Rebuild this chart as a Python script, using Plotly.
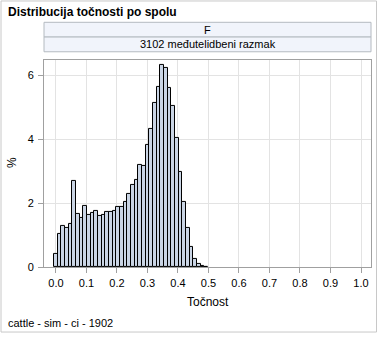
import plotly.graph_objects as go

# ---- data ----
bin_width = 0.012
bin_centers = [round(i * bin_width, 3) for i in range(42)]
percent = [0.42, 1.04, 1.28, 1.22, 1.34, 2.70, 1.68, 1.53, 1.93, 1.65,
           1.69, 1.75, 1.60, 1.63, 1.72, 1.72, 1.75, 1.88, 1.90, 2.03,
           2.28, 2.58, 2.73, 3.20, 3.17, 3.84, 4.34, 5.13, 5.65, 6.34,
           6.24, 5.62, 5.04, 4.06, 2.98, 2.05, 1.23, 0.62, 0.27, 0.11,
           0.04, 0.02]
x_ticks = [0.0, 0.1, 0.2, 0.3, 0.4, 0.5, 0.6, 0.7, 0.8, 0.9, 1.0]
x_ticklabels = ["0.0", "0.1", "0.2", "0.3", "0.4", "0.5", "0.6", "0.7", "0.8", "0.9", "1.0"]
y_ticks = [0, 2, 4, 6]
title_text = "Distribucija točnosti po spolu"
strip1_text = "F"
strip2_text = "3102 međutelidbeni razmak"
x_title = "Točnost"
y_title = "%"
footer_text = "cattle - sim - ci - 1902"

W, H = 378, 340
def X(p): return p / W
def Y(p): return 1 - p / H

FONT = "Liberation Sans, Arial, sans-serif"
TXT = "#000000"

fig = go.Figure()
fig.add_trace(go.Bar(
    x=bin_centers, y=percent, width=bin_width,
    marker=dict(color="#CAD5E5", line=dict(color="#000000", width=1)),
    hoverinfo="x+y", showlegend=False,
))

px_left, px_right, px_top, px_bottom = 44, 371, 61, 272

fig.update_layout(
    width=W, height=H,
    margin=dict(l=0, r=0, t=0, b=0),
    paper_bgcolor="white", plot_bgcolor="white",
    bargap=0,
    font=dict(family=FONT, size=11, color=TXT),
    xaxis=dict(
        domain=[X(px_left), X(px_right)],
        range=[-0.0393, 1.0328],
        tickvals=x_ticks, ticktext=x_ticklabels,
        ticks="outside", ticklen=5, tickcolor="#A0A0A0",
        ticklabelstandoff=1,
        showgrid=True, gridcolor="#E3E3E3", gridwidth=1,
        showline=True, linecolor="#A0A0A0", linewidth=1, mirror=True,
        zeroline=False, tickfont=dict(size=11, color=TXT),
        fixedrange=True,
    ),
    yaxis=dict(
        domain=[Y(px_bottom), Y(px_top)],
        range=[0, 6.49],
        tickvals=y_ticks,
        ticks="outside", ticklen=5, tickcolor="#A0A0A0",
        ticklabelstandoff=2,
        showgrid=True, gridcolor="#E3E3E3", gridwidth=1,
        showline=True, linecolor="#A0A0A0", linewidth=1, mirror=True,
        zeroline=False, tickfont=dict(size=11, color=TXT),
        fixedrange=True,
    ),
)

shapes = []
# outer border
shapes.append(dict(type="rect", xref="paper", yref="paper",
                   x0=X(1), x1=X(376.5), y0=Y(1), y1=Y(338),
                   line=dict(color="#C8C8C8", width=1), fillcolor="rgba(0,0,0,0)", layer="below"))
# strip boxes
for (t, b) in [(22.7, 37.7), (37.7, 52.7)]:
    shapes.append(dict(type="rect", xref="paper", yref="paper",
                       x0=X(px_left), x1=X(px_right), y0=Y(b), y1=Y(t),
                       line=dict(color="#B4BAC0", width=1), fillcolor="#F1F4FB", layer="below"))
fig.update_layout(shapes=shapes)

ann = [
    dict(text="<b>" + title_text + "</b>", x=X(6), y=Y(12.5), xanchor="left", yanchor="middle",
         font=dict(size=12, color=TXT)),
    dict(text=strip1_text, x=X((px_left + px_right) / 2), y=Y(30.2), xanchor="center", yanchor="middle",
         font=dict(size=11, color=TXT)),
    dict(text=strip2_text, x=X((px_left + px_right) / 2), y=Y(45.2), xanchor="center", yanchor="middle",
         font=dict(size=11, color=TXT)),
    dict(text=x_title, x=X((px_left + px_right) / 2), y=Y(307), xanchor="center", yanchor="middle",
         font=dict(size=12, color=TXT)),
    dict(text=y_title, x=X(12), y=Y(166), xanchor="center", yanchor="middle", textangle=-90,
         font=dict(size=12, color=TXT)),
    dict(text=footer_text, x=X(6), y=Y(329), xanchor="left", yanchor="middle",
         font=dict(size=11, color=TXT)),
]
for a in ann:
    a.update(xref="paper", yref="paper", showarrow=False)
fig.update_layout(annotations=ann)

fig.write_html("out.html")
